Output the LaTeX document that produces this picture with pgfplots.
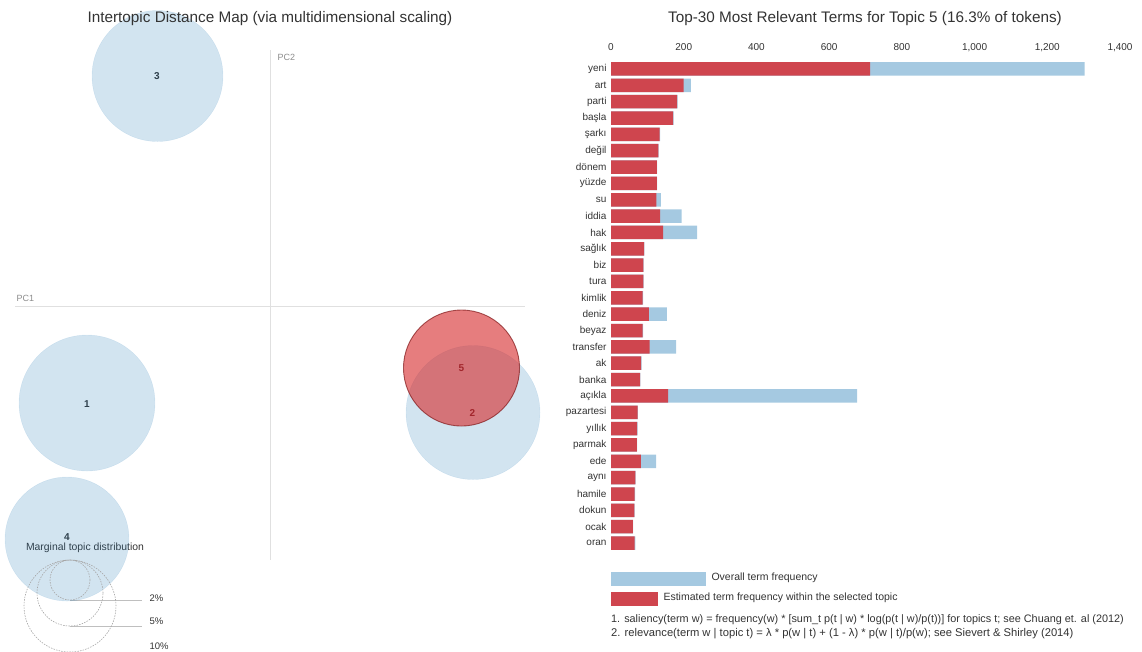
\documentclass[border=0pt]{standalone}
\usepackage{fontspec}
\setmainfont{Liberation Sans}
\usepackage{pgfplots}
\pgfplotsset{compat=1.18}
\definecolor{barblue}{HTML}{A5C9E1}
\definecolor{barred}{HTML}{CF454E}
\definecolor{circblue}{HTML}{1F77B4}
\definecolor{circred}{HTML}{D62728}
\definecolor{txt}{HTML}{333333}
\begin{document}
\begin{tikzpicture}
% ---------------- left panel: intertopic distance map ----------------
\begin{axis}[at={(0pt,0pt)}, anchor=north west, scale only axis,
  width=560pt, height=651pt, xmin=0, xmax=560, ymin=0, ymax=651,
  y dir=reverse, axis lines=none, ticks=none, clip=false]
\addplot[black!12, line width=1pt] coordinates {(270,50) (270,560)};
\addplot[black!12, line width=1pt] coordinates {(15,306) (525,306)};
% topic circles (blue = unselected)
\addplot[only marks, mark=*, mark size=65.5pt, mark options={fill=circblue, fill opacity=0.2, draw=circblue, draw opacity=0.12}] coordinates {(157.5,76)};
\addplot[only marks, mark=*, mark size=68pt, mark options={fill=circblue, fill opacity=0.2, draw=circblue, draw opacity=0.12}] coordinates {(87,403)};
\addplot[only marks, mark=*, mark size=62pt, mark options={fill=circblue, fill opacity=0.2, draw=circblue, draw opacity=0.12}] coordinates {(67,539)};
\addplot[only marks, mark=*, mark size=67pt, mark options={fill=circblue, fill opacity=0.2, draw=circblue, draw opacity=0.12}] coordinates {(473,412.5)};
% selected topic 5
\addplot[only marks, mark=*, mark size=58pt, mark options={fill=circred, fill opacity=0.6, draw=circred!60!black, draw opacity=0.7, line width=0.9pt}] coordinates {(461.5,368)};
% labels
\node[font=\bfseries\fontsize{10}{12}\selectfont, text=txt] at (axis cs:157,76) {3};
\node[font=\bfseries\fontsize{10}{12}\selectfont, text=txt] at (axis cs:87,404) {1};
\node[font=\bfseries\fontsize{10}{12}\selectfont, text=txt] at (axis cs:67,537) {4};
\node[font=\bfseries\fontsize{10}{12}\selectfont, text=circred!45!black] at (axis cs:472.5,413) {2};
\node[font=\bfseries\fontsize{10}{12}\selectfont, text=circred!45!black] at (axis cs:461.5,368) {5};
% axis labels
\node[anchor=west, font=\fontsize{9}{11}\selectfont, text=black!45] at (axis cs:274,57) {PC2};
\node[anchor=west, font=\fontsize{9}{11}\selectfont, text=black!45] at (axis cs:13,298) {PC1};
% marginal topic distribution legend
\addplot[only marks, mark=o, mark size=20pt, mark options={draw=black!35, line width=0.6pt, dash pattern=on 1.5pt off 1.2pt}] coordinates {(70,580)};
\addplot[only marks, mark=o, mark size=33pt, mark options={draw=black!35, line width=0.6pt, dash pattern=on 1.5pt off 1.2pt}] coordinates {(70,593)};
\addplot[only marks, mark=o, mark size=46pt, mark options={draw=black!35, line width=0.6pt, dash pattern=on 1.5pt off 1.2pt}] coordinates {(70,606)};
\addplot[black!25, line width=0.6pt] coordinates {(70,600) (142,600)};
\addplot[black!25, line width=0.6pt] coordinates {(70,626) (142,626)};
\addplot[black!25, line width=0.6pt] coordinates {(70,652) (142,652)};
\node[anchor=west, font=\fontsize{9.5}{11}\selectfont, text=txt] at (axis cs:146,598) {2\%};
\node[anchor=west, font=\fontsize{9.5}{11}\selectfont, text=txt] at (axis cs:146,621) {5\%};
\node[anchor=west, font=\fontsize{9.5}{11}\selectfont, text=txt] at (axis cs:146,646) {10\%};
\node[font=\fontsize{10.4}{12}\selectfont, text=txt] at (axis cs:85,548) {Marginal topic distribution};
\end{axis}
% ---------------- right panel: term bars ----------------
\begin{axis}[at={(611pt,-60.8pt)}, anchor=north west, scale only axis,
  width=509pt, height=490.4pt, xmin=0, xmax=1400, ymin=-0.5, ymax=29.5,
  y dir=reverse, xbar, bar width=13.5pt, axis line style={draw=none},
  major tick length=0pt, xtick={0,200,...,1400}, xticklabel pos=upper,
  ytick={0,...,29},
  yticklabels={yeni,art,parti,başla,şarkı,değil,dönem,yüzde,su,iddia,hak,sağlık,biz,tura,kimlik,deniz,beyaz,transfer,ak,banka,açıkla,pazartesi,yıllık,parmak,ede,aynı,hamile,dokun,ocak,oran},
  tick label style={font=\fontsize{10}{12}\selectfont, text=txt},
  xticklabel style={yshift=4pt, text height=7.5pt, text depth=2.5pt},
  yticklabel style={xshift=-1pt},
  /pgf/number format/assume math mode=true,
  /pgf/number format/1000 sep={,},
  clip=false]
\addplot[fill=barblue, draw=none, bar shift=0pt] coordinates {
(1303,0) (220,1) (183,2) (172,3) (135,4) (131,5) (127,6) (127,7) (137,8) (194,9)
(237,10) (92,11) (90,12) (90,13) (88,14) (154,15) (88,16) (179,17) (84,18) (81,19)
(677,20) (74,21) (73,22) (72,23) (124,24) (68,25) (66,26) (65,27) (61,28) (67,29)};
\addplot[fill=barred, draw=none, bar shift=0pt] coordinates {
(713,0) (200,1) (182,2) (171,3) (134,4) (130,5) (126,6) (126,7) (125,8) (135,9)
(143,10) (91,11) (89,12) (89,13) (87,14) (104,15) (87,16) (106,17) (83,18) (80,19)
(157,20) (73,21) (72,22) (71,23) (82,24) (67,25) (65,26) (64,27) (60,28) (65,29)};
\end{axis}
% ---------------- titles, legend, notes ----------------
\begin{scope}[x=1pt, y=-1pt]
\node[font=\fontsize{15.3}{18}\selectfont, text=txt] at (270,19) {Intertopic Distance Map (via multidimensional scaling)};
\node[font=\fontsize{15.3}{18}\selectfont, text=txt] at (865,19) {Top-30 Most Relevant Terms for Topic 5 (16.3\% of tokens)};
\fill[barblue] (611,572) rectangle (706,586);
\node[anchor=west, font=\fontsize{10.5}{12}\selectfont, text=txt] at (708,578) {Overall term frequency};
\fill[barred] (611,592) rectangle (658,606);
\node[anchor=west, font=\fontsize{10.5}{12}\selectfont, text=txt] at (660,598) {Estimated term frequency within the selected topic};
\node[anchor=west, inner sep=0pt, font=\fontsize{10.85}{12}\selectfont, text=txt] at (611,620) {1. saliency(term w) = frequency(w) * [sum\_t p(t | w) * log(p(t | w)/p(t))] for topics t; see Chuang et. al (2012)};
\node[anchor=west, inner sep=0pt, font=\fontsize{11.2}{12}\selectfont, text=txt] at (611,634) {2. relevance(term w | topic t) = λ * p(w | t) + (1 - λ) * p(w | t)/p(w); see Sievert \& Shirley (2014)};
\pgfresetboundingbox
\useasboundingbox (0,0) rectangle (1142,651);
\end{scope}
\end{tikzpicture}
\end{document}
